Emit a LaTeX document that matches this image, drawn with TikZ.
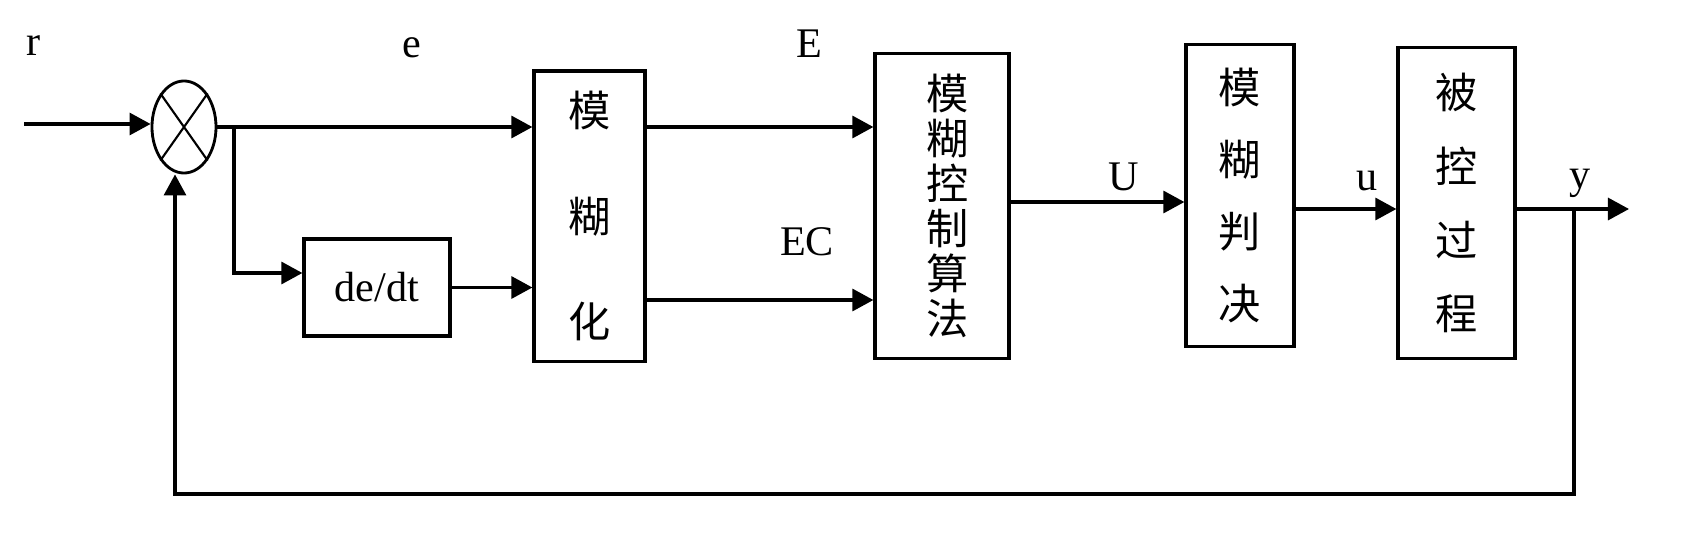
\documentclass[tikz,border=0pt]{standalone}
\usepackage{fontspec}
\setmainfont{Liberation Serif}
\newfontfamily\cjk{Noto Sans CJK SC}
\usetikzlibrary{arrows.meta,shapes.geometric,calc}
\begin{document}
\begin{tikzpicture}[x=0.01cm,y=0.01cm,line width=0.9pt,
  arr/.style={-{Triangle[length=2.1mm,width=2.2mm]}},
  blk/.style={draw,inner sep=0pt,align=center},
  lbl/.style={font=\fontsize{12}{14}\selectfont,inner sep=0pt,anchor=base}]
\useasboundingbox (0,0) rectangle (1702,-542);
% summing junction
\node[draw,ellipse,minimum width=0.64cm,minimum height=0.92cm,inner sep=0pt,line width=0.8pt] (sum) at (184,-127) {};
\draw[line width=0.6pt] (sum.north west) -- (sum.south east) (sum.north east) -- (sum.south west);
% blocks
\node[blk,minimum width=1.46cm,minimum height=0.97cm,font=\fontsize{12}{14}\selectfont] (dd) at (377,-287.5) {de/dt};
\node[blk,minimum width=1.11cm,minimum height=2.90cm,font=\cjk\fontsize{12}{30}\selectfont] (fz) at (589.5,-216) {模\\糊\\化};
\node[blk,minimum width=1.34cm,minimum height=3.04cm,font=\cjk\fontsize{12}{12.8}\selectfont] (alg) at (942,-206) {\hspace*{0.12cm}模\\\hspace*{0.12cm}糊\\\hspace*{0.12cm}控\\\hspace*{0.12cm}制\\\hspace*{0.12cm}算\\\hspace*{0.12cm}法};
\node[blk,minimum width=1.08cm,minimum height=3.01cm,font=\cjk\fontsize{12}{20.5}\selectfont] (jd) at (1240,-195.5) {模\\糊\\判\\决};
\node[blk,minimum width=1.17cm,minimum height=3.10cm,font=\cjk\fontsize{12}{21}\selectfont] (pl) at (1456.5,-203) {被\\控\\过\\程};
% labels
\node[lbl] (lr) at (34,-55) {r};
\node[lbl] (le) at (412,-57) {e};
\node[lbl] (lE) at (809,-57) {E};
\node[lbl] (lEC) at (807,-255) {EC};
\node[lbl] (lU) at (1124,-190) {U};
\node[lbl] (lu) at (1367,-190) {u};
\node[lbl] (ly) at (1580,-188) {y};
% connectors
\coordinate (in) at (24,-124);
\coordinate (br) at (234,-127);
\coordinate (out) at (1629,-209);
\coordinate (fb) at (1574,-209);
\coordinate (bot) at (175,-494);
\draw[arr] (in) -- (in -| sum.west);
\draw[arr] (sum.east) -- (sum.east -| fz.west);
\draw[arr] (br) |- ($(dd.west)+(0,14.5)$);
\draw[arr] (dd.east) -- (dd.east -| fz.west);
\draw[arr] ($(fz.east)+(0,89)$) -- ($(alg.west)+(0,79)$);
\draw[arr] ($(fz.east)+(0,-84)$) -- ($(alg.west)+(0,-94)$);
\draw[arr] ($(alg.east)+(0,4)$) -- ($(jd.west)+(0,-6.5)$);
\draw[arr] ($(jd.east)+(0,-13.5)$) -- ($(pl.west)+(0,-6)$);
\draw[arr] ($(pl.east)+(0,-6)$) -- (out);
\draw[arr] (fb) |- (bot) -- (sum.south -| bot);
\end{tikzpicture}
\end{document}
